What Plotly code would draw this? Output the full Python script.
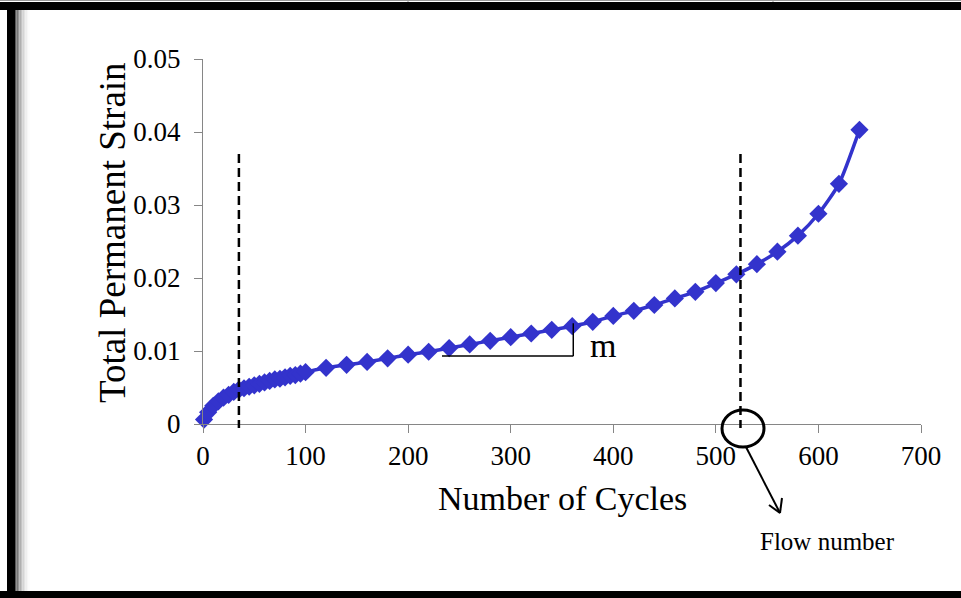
import plotly.graph_objects as go

# Permanent strain vs. load cycles (repeated-load test)
cycles = [1, 5, 10, 15, 20, 25, 30, 35, 40, 45, 50, 55, 60, 65, 70, 75, 80, 85, 90, 95, 100,
          120, 140, 160, 180, 200, 220, 240, 260, 280, 300, 320, 340, 360, 380, 400,
          420, 440, 460, 480, 500, 520, 540, 560, 580, 600, 620, 640]
strain = [0.0006, 0.0016, 0.0025, 0.0031, 0.0036, 0.0040, 0.0044, 0.0047, 0.0049, 0.0051,
          0.0053, 0.0055, 0.0057, 0.0059, 0.0061, 0.0062, 0.0064, 0.0066, 0.0067, 0.0069,
          0.0071, 0.0077, 0.0081, 0.0085, 0.0090, 0.0095, 0.0099, 0.0104, 0.0109, 0.0114,
          0.0119, 0.0124, 0.0129, 0.0134, 0.0140, 0.0148, 0.0155, 0.0163, 0.0172, 0.0181,
          0.0193, 0.0205, 0.0219, 0.0236, 0.0258, 0.0288, 0.0329, 0.0403]

x_ticks = [0, 100, 200, 300, 400, 500, 600, 700]
y_ticks = [0, 0.01, 0.02, 0.03, 0.04, 0.05]
y_tick_text = ["0", "0.01", "0.02", "0.03", "0.04", "0.05"]

# phase boundaries (cycles) and the secondary-phase slope triangle
phase_bounds = [35, 524]
slope_x = [233, 361]
slope_y = [0.0093, 0.0138]

FONT = "Liberation Serif, Times New Roman, serif"
SERIES = "#3333CC"

W, H = 961, 598
ML, MR, MT, MB = 203, 40, 59, 174
PW, PH = W - ML - MR, H - MT - MB


def px(p):
    """pixel column -> paper x"""
    return (p - ML) / PW


def py(p):
    """pixel row -> paper y"""
    return (H - MB - p) / PH


fig = go.Figure()
fig.add_trace(go.Scatter(
    x=cycles, y=strain, mode="lines+markers",
    line=dict(color=SERIES, width=3.5, shape="spline", smoothing=0.6),
    marker=dict(symbol="diamond", size=14, color=SERIES),
    showlegend=False, cliponaxis=False,
))

shapes = []
# dashed phase boundaries
for xb in phase_bounds:
    shapes.append(dict(type="line", xref="x", yref="paper", x0=xb, x1=xb,
                       y0=py(154), y1=py(428),
                       line=dict(color="black", width=2.5, dash="9px,5px")))
# slope triangle
shapes.append(dict(type="line", xref="x", yref="y", x0=slope_x[0], x1=slope_x[1],
                   y0=slope_y[0], y1=slope_y[0], line=dict(color="black", width=1.5)))
shapes.append(dict(type="line", xref="x", yref="y", x0=slope_x[1], x1=slope_x[1],
                   y0=slope_y[0], y1=slope_y[1], line=dict(color="black", width=1.5)))
# circle around the flow number on the axis
shapes.append(dict(type="circle", xref="paper", yref="paper",
                   x0=px(722), x1=px(764), y0=py(447), y1=py(410),
                   line=dict(color="black", width=3)))
# arrow pointing to the label
arrow = dict(xref="paper", yref="paper", line=dict(color="black", width=2))
shapes.append(dict(type="line", x0=px(746), y0=py(447), x1=px(780), y1=py(513), **arrow))
shapes.append(dict(type="line", x0=px(769), y0=py(505), x1=px(780), y1=py(513), **arrow))
shapes.append(dict(type="line", x0=px(782), y0=py(498), x1=px(780), y1=py(513), **arrow))

# page frame: thin rule and bars around the figure
frame = dict(xref="paper", yref="paper", layer="above")
shapes.append(dict(type="line", x0=px(0), x1=px(W), y0=py(0.5), y1=py(0.5),
                   line=dict(color="#9a9a9a", width=1), **frame))
for xv in (408, 773):
    shapes.append(dict(type="line", x0=px(xv), x1=px(xv), y0=py(0), y1=py(3),
                       line=dict(color="#9a9a9a", width=1), **frame))
shapes.append(dict(type="rect", x0=px(0), x1=px(W), y0=py(10), y1=py(2),
                   fillcolor="black", line=dict(width=0), **frame))
shapes.append(dict(type="rect", x0=px(0), x1=px(W), y0=py(598), y1=py(591),
                   fillcolor="black", line=dict(width=0), **frame))
# soft shadow to the right of the left bar
shade = [90, 120, 150, 175, 195, 212, 226, 238, 246, 252]
for i, g in enumerate(shade):
    shapes.append(dict(type="rect", x0=px(15 + i * 1.5), x1=px(16.5 + i * 1.5),
                       y0=py(591), y1=py(10),
                       fillcolor=f"rgb({g},{g},{g})", line=dict(width=0), **frame))
shapes.append(dict(type="rect", x0=px(7), x1=px(15), y0=py(591), y1=py(10),
                   fillcolor="black", line=dict(width=0), **frame))

annotations = [
    dict(text="Number of Cycles", xref="paper", yref="paper", x=0.5, y=py(498),
         showarrow=False, font=dict(family=FONT, size=34, color="black"),
         xanchor="center", yanchor="middle"),
    dict(text="Total Permanent Strain", xref="paper", yref="paper", x=px(112), y=py(233),
         showarrow=False, textangle=-90, font=dict(family=FONT, size=37, color="black"),
         xanchor="center", yanchor="middle"),
    dict(text="m", xref="x", yref="y", x=390, y=0.0108, showarrow=False,
         font=dict(family=FONT, size=34, color="black"), xanchor="center", yanchor="middle"),
    dict(text="Flow number", xref="paper", yref="paper", x=px(827), y=py(541),
         showarrow=False, font=dict(family=FONT, size=25, color="black"),
         xanchor="center", yanchor="middle"),
]

axis_common = dict(
    showgrid=False, zeroline=False, showline=True, linecolor="#868686", linewidth=1,
    ticks="outside", ticklen=8, tickcolor="#868686", tickwidth=1,
    tickfont=dict(family=FONT, size=27, color="black"),
)

fig.update_layout(
    width=W, height=H,
    margin=dict(l=ML, r=MR, t=MT, b=MB),
    paper_bgcolor="white", plot_bgcolor="white",
    xaxis=dict(range=[0, 700], tickvals=x_ticks, ticktext=[str(v) for v in x_ticks],
               **axis_common),
    yaxis=dict(range=[0, 0.05], tickvals=y_ticks, ticktext=y_tick_text,
               ticklabelstandoff=8, **axis_common),
    shapes=shapes, annotations=annotations,
    font=dict(family=FONT),
)

fig.write_html("out.html")
